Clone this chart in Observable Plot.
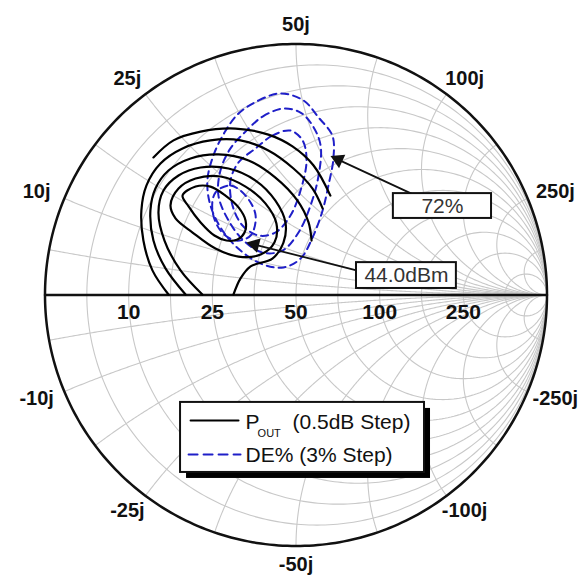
<!DOCTYPE html>
<html>
<head>
<meta charset="utf-8">
<script src="https://cdn.jsdelivr.net/npm/d3@7"></script>
<script src="https://cdn.jsdelivr.net/npm/@observablehq/plot@0.6"></script>
<style>
  html, body { margin: 0; padding: 0; background: #fff; }
</style>
</head>
<body>
<div id="chart"></div>
<script>
// Reference impedance (ohms)
const Z0 = 50;

// Normalized values of the constant-resistance circles and constant-reactance arcs
const gridValues = [1 / 11, 0.2, 1 / 3, 0.5, 5 / 7, 1, 1.4, 2, 3, 5, 11];

// Tick labels (ohms)
const resistanceTicks = [10, 25, 50, 100, 250];
const reactanceTicks = [10, 25, 50, 100, 250, -10, -25, -50, -100, -250];

// Output-power contours, reflection coefficient (re, im); the first two are closed loops
const pout440 = [[-0.452,0.396],[-0.400,0.432],[-0.341,0.432],[-0.281,0.396],[-0.229,0.349],[-0.201,0.297],[-0.205,0.249],[-0.233,0.221],[-0.277,0.217],[-0.325,0.237],[-0.380,0.289],[-0.428,0.353]];
const pout435 = [[-0.500,0.357],[-0.468,0.424],[-0.400,0.464],[-0.301,0.472],[-0.201,0.432],[-0.122,0.365],[-0.078,0.285],[-0.086,0.209],[-0.141,0.161],[-0.229,0.153],[-0.321,0.185],[-0.412,0.249],[-0.480,0.305]];
const pout430 = [[-0.373,0.002],[-0.460,0.098],[-0.524,0.217],[-0.548,0.329],[-0.528,0.416],[-0.468,0.476],[-0.380,0.508],[-0.269,0.504],[-0.161,0.456],[-0.082,0.376],[-0.042,0.289],[-0.050,0.209],[-0.094,0.145],[-0.181,0.114],[-0.221,0.066],[-0.249,0.002]];
const pout425 = [[-0.440,0.002],[-0.520,0.106],[-0.568,0.217],[-0.580,0.337],[-0.560,0.424],[-0.508,0.496],[-0.420,0.544],[-0.309,0.560],[-0.189,0.536],[-0.082,0.468],[0.006,0.376],[0.050,0.289],[0.062,0.217]];
const pout420 = [[-0.508,0.002],[-0.572,0.098],[-0.608,0.217],[-0.616,0.337],[-0.596,0.436],[-0.540,0.524],[-0.452,0.584],[-0.341,0.616],[-0.221,0.616],[-0.110,0.576],[-0.010,0.504],[0.066,0.424],[0.106,0.345]];
const pout415 = [[-0.568,0.548],[-0.488,0.616],[-0.380,0.651],[-0.241,0.663],[-0.110,0.639],[-0.014,0.592],[0.070,0.516],[0.137,0.396]];

// Drain-efficiency contours, reflection coefficient (re, im)
const de72 = [[-0.229,0.723],[-0.149,0.775],[-0.062,0.803],[0.030,0.775],[0.090,0.707],[0.145,0.635],[0.149,0.544],[0.129,0.436],[0.106,0.337],[0.066,0.229],[0.018,0.145],[-0.050,0.110],[-0.133,0.122],[-0.221,0.177],[-0.293,0.257],[-0.341,0.357],[-0.353,0.456],[-0.329,0.556],[-0.285,0.647]];
const de75 = [[-0.197,0.655],[-0.133,0.711],[-0.050,0.743],[0.018,0.727],[0.066,0.675],[0.098,0.596],[0.090,0.476],[0.058,0.357],[0.010,0.249],[-0.054,0.177],[-0.133,0.169],[-0.209,0.217],[-0.269,0.297],[-0.309,0.396],[-0.301,0.496],[-0.261,0.584]];
const de78 = [[-0.161,0.584],[-0.094,0.635],[-0.022,0.655],[0.026,0.616],[0.042,0.536],[0.018,0.416],[-0.022,0.317],[-0.082,0.249],[-0.149,0.237],[-0.213,0.277],[-0.253,0.357],[-0.261,0.456],[-0.229,0.528]];
const de81 = [[-0.321,0.408],[-0.261,0.436],[-0.201,0.396],[-0.161,0.317],[-0.181,0.237],[-0.241,0.217],[-0.301,0.257],[-0.333,0.337]];

// ---- chart geometry ----
const W = 582, H = 577;
const R = 251, CX = 295.5, CY = 294.5;
const font = "'Liberation Sans', Arial, Helvetica, sans-serif";

// z = r + jx (normalized) -> reflection coefficient
function gamma(r, x) {
  const den = (r + 1) * (r + 1) + x * x;
  return [(r * r + x * x - 1) / den, (2 * x) / den];
}

// constant-resistance circles
const gridRows = [];
const N = 360;
gridValues.forEach((r, k) => {
  for (let i = 0; i <= N; i++) {
    const s = -Math.PI / 2 + (Math.PI * i) / N;
    const g = (i === 0 || i === N) ? [1, 0] : gamma(r, Math.tan(s));
    gridRows.push({id: "r" + k, re: g[0], im: g[1]});
  }
});
// constant-reactance arcs, both signs
gridValues.forEach((x, k) => {
  for (const sign of [1, -1]) {
    for (let i = 0; i <= N; i++) {
      const s = (Math.PI / 2) * (i / N);
      const g = i === N ? [1, 0] : gamma(Math.tan(s), sign * x);
      gridRows.push({id: "x" + k + (sign > 0 ? "p" : "n"), re: g[0], im: g[1]});
    }
  }
});

// outer boundary (r = 0) and real axis
const boundary = d3.range(0, 361).map(i => {
  const t = (i * Math.PI) / 180;
  return {re: Math.cos(t), im: Math.sin(t)};
});
const realAxis = [{re: -1, im: 0}, {re: 1, im: 0}];

// tick labels
const rLabels = resistanceTicks.map(v => {
  const r = v / Z0;
  return {re: (r - 1) / (r + 1), im: 0, text: String(v)};
});
const xLabels = reactanceTicks.map(v => {
  const x = v / Z0;
  const g = gamma(0, x);
  const t = Math.atan2(g[1], g[0]);
  return {re: (1 + 30 / R) * Math.cos(t), im: (1 + 19 / R) * Math.sin(t), text: v + "j"};
});

// contour tables
const toRows = (pts, id) => pts.map(([re, im]) => ({id, re, im}));
const poutClosed = [...toRows(pout440, "p440"), ...toRows(pout435, "p435")];
const poutOpen = [...toRows(pout430, "p430"), ...toRows(pout425, "p425"), ...toRows(pout420, "p420"), ...toRows(pout415, "p415")];
const deClosed = [...toRows(de72, "d72"), ...toRows(de75, "d75"), ...toRows(de78, "d78"), ...toRows(de81, "d81")];

// annotation callouts (reflection-coefficient units)
const px = v => v / R; // pixel length to chart units
const callouts = [
  {text: "72%", box: [0.388, 0.779, 0.305, 0.404], from: [0.46, 0.404], to: [0.154, 0.546]},
  {text: "44.0dBm", box: [0.241, 0.639, 0.026, 0.129], from: [0.241, 0.098], to: [-0.180, 0.205]}
];
const arrowHeads = callouts.map(c => {
  const dx = c.to[0] - c.from[0], dy = c.to[1] - c.from[1];
  const len = Math.hypot(dx, dy);
  const back = px(4);
  return {
    re: c.to[0] - (dx / len) * back,
    im: c.to[1] - (dy / len) * back,
    rotate: (Math.atan2(dx, dy) * 180) / Math.PI
  };
});
const arrowShafts = callouts.flatMap((c, i) => {
  const dx = c.to[0] - c.from[0], dy = c.to[1] - c.from[1];
  const len = Math.hypot(dx, dy);
  const back = px(8);
  return [
    {id: i, re: c.from[0], im: c.from[1]},
    {id: i, re: c.to[0] - (dx / len) * back, im: c.to[1] - (dy / len) * back}
  ];
});

// legend block
const lg = {x1: -0.460, x2: 0.512, y1: -0.707, y2: -0.428};
const shadow = px(6);

const DE_BLUE = "#1f1fc8";

const chart = Plot.plot({
  width: W,
  height: H,
  marginLeft: CX - R,
  marginRight: W - CX - R,
  marginTop: CY - R,
  marginBottom: H - CY - R,
  x: {domain: [-1, 1], axis: null},
  y: {domain: [-1, 1], axis: null},
  style: {fontFamily: font, background: "#fff", overflow: "visible"},
  marks: [
    // grid
    Plot.line(gridRows, {x: "re", y: "im", z: "id", stroke: "#c8c8c8", strokeWidth: 1.1}),
    Plot.line(realAxis, {x: "re", y: "im", stroke: "#111", strokeWidth: 2.5}),
    Plot.line(boundary, {x: "re", y: "im", stroke: "#111", strokeWidth: 2.5}),

    // drain-efficiency contours
    Plot.line(deClosed, {x: "re", y: "im", z: "id", curve: "catmull-rom-closed", stroke: DE_BLUE, strokeWidth: 2, strokeDasharray: "7,5"}),

    // output-power contours
    Plot.line(poutClosed, {x: "re", y: "im", z: "id", curve: "catmull-rom-closed", stroke: "#000", strokeWidth: 2.2}),
    Plot.line(poutOpen, {x: "re", y: "im", z: "id", curve: "catmull-rom", stroke: "#000", strokeWidth: 2.2}),

    // callouts
    Plot.line(arrowShafts, {x: "re", y: "im", z: "id", stroke: "#111", strokeWidth: 1.8}),
    Plot.dot(arrowHeads, {x: "re", y: "im", rotate: "rotate", symbol: "triangle", r: 5.5, fill: "#111", stroke: "none"}),
    Plot.rect(callouts, {x1: d => d.box[0], x2: d => d.box[1], y1: d => d.box[2], y2: d => d.box[3], fill: "#fff", stroke: "#111", strokeWidth: 2}),
    Plot.text(callouts, {x: d => (d.box[0] + d.box[1]) / 2, y: d => (d.box[2] + d.box[3]) / 2, text: "text", fontSize: 21, fill: "#333", textAnchor: "middle", lineAnchor: "middle"}),

    // tick labels
    Plot.text(rLabels, {x: "re", y: "im", text: "text", dy: 24, fontSize: 21, fontWeight: "bold", fill: "#111", lineAnchor: "bottom"}),
    Plot.text(xLabels, {x: "re", y: "im", text: "text", fontSize: 20, fontWeight: "bold", fill: "#111", lineAnchor: "middle"}),

    // legend
    Plot.rect([lg], {x1: d => d.x1 + shadow, x2: d => d.x2 + shadow, y1: d => d.y1 - shadow, y2: d => d.y2 - shadow, fill: "#000"}),
    Plot.rect([lg], {x1: "x1", x2: "x2", y1: "y1", y2: "y2", fill: "#fff", stroke: "#111", strokeWidth: 2}),
    Plot.line([{re: -0.420, im: -0.500}, {re: -0.229, im: -0.500}], {x: "re", y: "im", stroke: "#000", strokeWidth: 2}),
    Plot.line([{re: -0.428, im: -0.635}, {re: -0.221, im: -0.635}], {x: "re", y: "im", stroke: DE_BLUE, strokeWidth: 2, strokeDasharray: "9,6"}),
    Plot.text(["P"], {x: -0.201, y: -0.532, text: d => d, fontSize: 21, fill: "#111", textAnchor: "start", lineAnchor: "bottom"}),
    Plot.text(["OUT"], {x: -0.153, y: -0.566, text: d => d, fontSize: 11, fill: "#111", textAnchor: "start", lineAnchor: "bottom"}),
    Plot.text(["(0.5dB Step)"], {x: -0.014, y: -0.532, text: d => d, fontSize: 21, fill: "#111", textAnchor: "start", lineAnchor: "bottom"}),
    Plot.text(["DE% (3% Step)"], {x: -0.201, y: -0.667, text: d => d, fontSize: 21, fill: "#111", textAnchor: "start", lineAnchor: "bottom"})
  ]
});

document.getElementById("chart").appendChild(chart);
</script>
</body>
</html>
